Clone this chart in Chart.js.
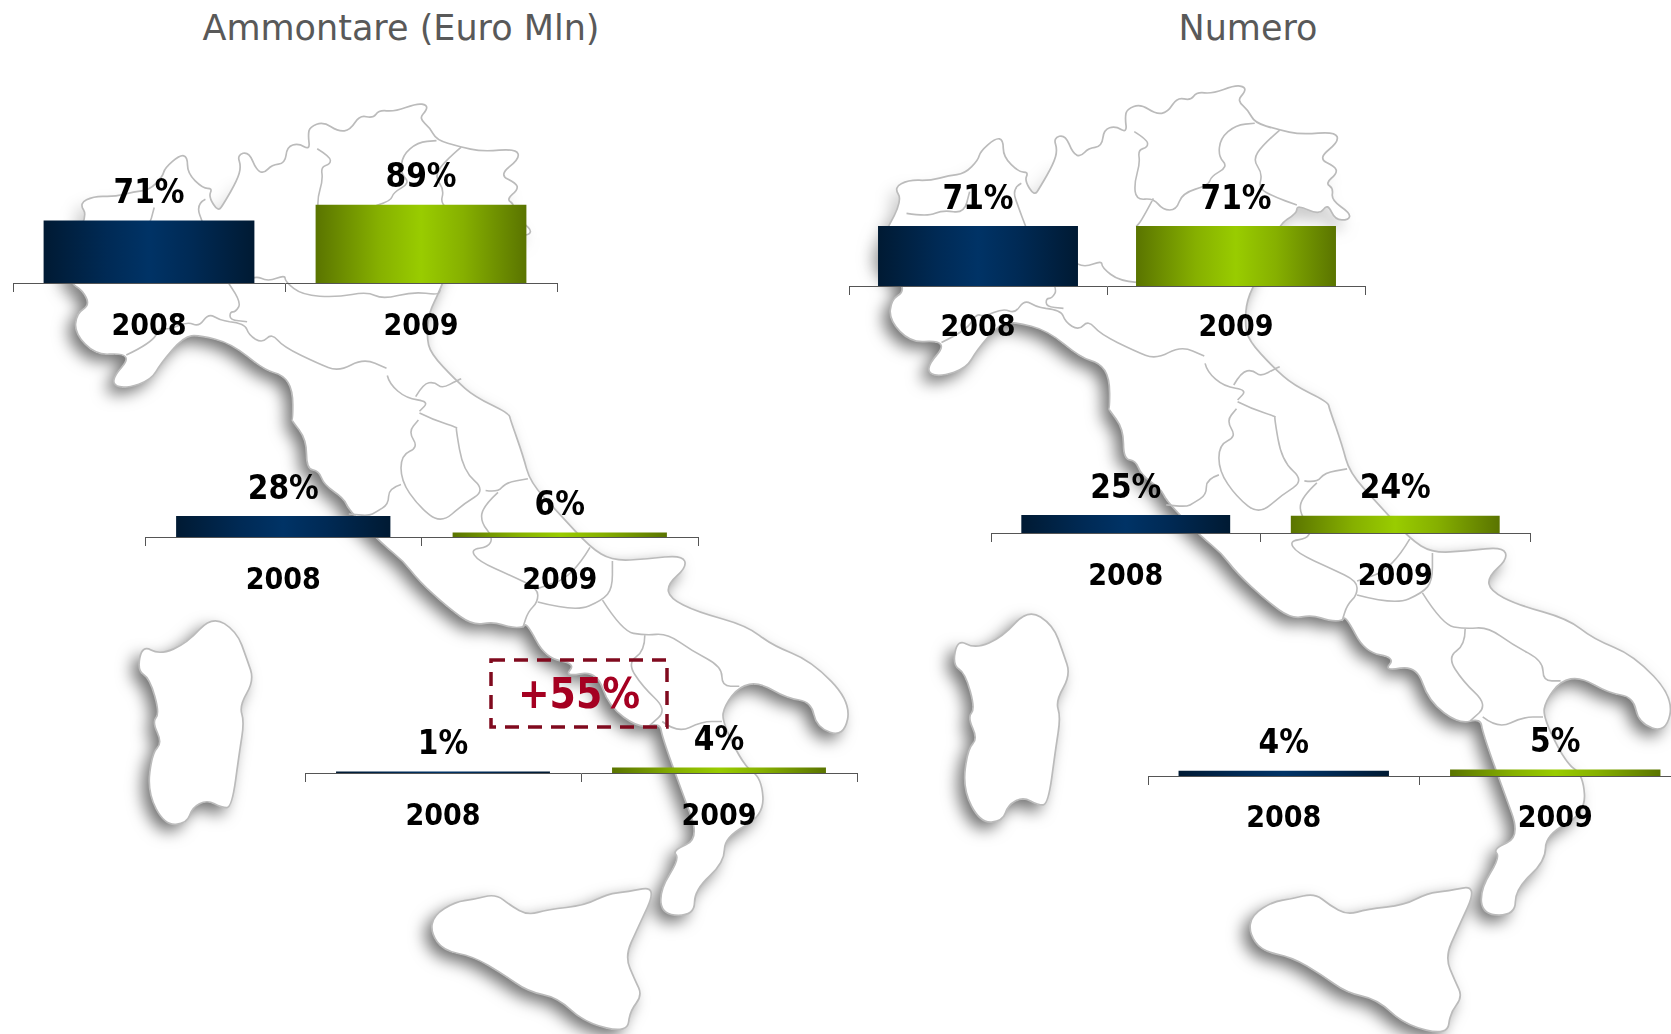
<!DOCTYPE html>
<html>
<head>
<meta charset="utf-8">
<title>Ammontare e Numero</title>
<script src="https://cdn.jsdelivr.net/npm/chart.js@4"></script>
<style>
  html, body { margin: 0; padding: 0; background: #fff; }
  #page { position: relative; width: 1671px; height: 1034px; overflow: hidden; }
  #map { position: absolute; left: 0; top: 0; }
  canvas { position: absolute; }
  .title { position: absolute; top: 5px; width: 600px; text-align: center; color: #595959;
           font: 35px "DejaVu Sans", sans-serif; line-height: 46px; }
  #delta { position: absolute; left: 491px; top: 660px; width: 176px; height: 67px;
           text-align: center; color: #a50021; font: bold 42px/67px "DejaVu Sans Condensed", "DejaVu Sans", sans-serif; }
</style>
</head>
<body>
<div id="page">
  <svg id="map" width="1671" height="1034" xmlns="http://www.w3.org/2000/svg">
    <defs>
      <filter id="shade" x="-10%" y="-10%" width="120%" height="120%">
        <feDropShadow dx="-7" dy="7" stdDeviation="8" flood-color="#000" flood-opacity="0.55"/>
      </filter>
      <linearGradient id="fadeNorth" gradientUnits="userSpaceOnUse" x1="0" y1="175" x2="0" y2="300">
        <stop offset="0" stop-color="#000"/>
        <stop offset="1" stop-color="#fff"/>
      </linearGradient>
      <mask id="southOnly" maskUnits="userSpaceOnUse" x="0" y="0" width="900" height="1100">
        <rect x="0" y="0" width="900" height="1100" fill="url(#fadeNorth)"/>
      </mask>
    </defs>
    <g id="italy"></g>
    <use href="#italy" transform="translate(813.9,-20.4) scale(1.01,1.022)"/>
  </svg>
  <div class="title" style="left:101px">Ammontare (Euro Mln)</div>
  <div class="title" style="left:948px">Numero</div>
  <canvas id="amountNord"></canvas>
  <canvas id="amountCentro"></canvas>
  <canvas id="amountSud"></canvas>
  <canvas id="countNord"></canvas>
  <canvas id="countCentro"></canvas>
  <canvas id="countSud"></canvas>
  <svg style="position:absolute;left:0;top:0" width="1671" height="1034">
    <rect x="491" y="660" width="176" height="67" fill="none" stroke="#800a1e" stroke-width="3.5" stroke-dasharray="14 9"/>
  </svg>
  <div id="delta">+55%</div>
</div>

<script>
const years = ["2008", "2009"];

const amountNord = [71, 89];
const amountCentro = [28, 6];
const amountSud = [1, 4];

const countNord = [71, 71];
const countCentro = [25, 24];
const countSud = [4, 5];

const labelFont = '"DejaVu Sans Condensed", "DejaVu Sans", sans-serif';
const plotHeight = 140;
const belowAxis = 60;

// ---- background map, traced by eye (just decoration, no data here) ----
const fromZ1 = pts => pts.map(([x, y]) => [x / 2.613, 60 + y / 3]);
const fromZ2 = pts => pts.map(([x, y]) => [100 + x / 2.01, 420 + y / 2.554]);
const toLeft = ([x, y]) => [(x - 813.9) / 1.01, 927 + (y - 927) / 1.022];
const fromZ3 = pts => pts.map(([x, y]) => toLeft([830 + x / 2.613, 60 + y / 3]));
const fromZ4 = pts => pts.map(([x, y]) => toLeft([930 + x / 2.116, 440 + y / 2.64]));

const mainland = [
  ...fromZ1([[207,430],[245,408],[300,410],[350,395],[390,390],[425,350],[430,325],[470,285],[490,290],[490,340],[530,385],[555,385],[545,410],[570,455],[585,430],[620,360],[630,320],[620,285],[650,275],[670,330],[690,340],[710,315],[745,310],[750,260],[780,250],[810,270],[805,225],[810,200],[845,185],[885,215],[915,210],[940,165],[975,175],[990,150],[1030,155],[1090,130],[1115,135],[1115,150],[1095,175],[1125,205],[1140,240],[1200,260],[1260,275]]),
  ...fromZ3([[1320,215],[1330,245],[1275,295],[1320,320],[1325,340],[1295,370],[1315,385],[1310,420],[1360,460],[1355,480],[1320,480],[1300,430],[1280,465],[1220,435],[1220,460],[1170,495]]),
  ...fromZ1([[1150,690],[1120,760],[1115,830],[1125,880],[1190,960],[1240,1010],[1330,1060]]),
  ...fromZ2([[825,0],[850,90],[865,160],[920,235],[985,325],[1030,360],[1100,355],[1170,345],[1180,375],[1140,420],[1145,455],[1200,490],[1300,525],[1350,575],[1430,615],[1510,720],[1495,810],[1440,785],[1430,720],[1380,710],[1325,670],[1285,680],[1255,730],[1250,770],[1295,885],[1330,915],[1335,1010],[1255,1065],[1255,1130],[1195,1200],[1195,1265],[1130,1265],[1125,1200],[1165,1120],[1150,1100],[1205,1070],[1170,950],[1130,810]]),
  ...fromZ4([[1165,735],[1120,750],[1055,690],[1030,595],[960,610],[985,575],[920,560],[880,465]]),
  ...fromZ2([[850,530],[825,530],[790,515],[750,525],[700,480],[640,410],[610,360],[570,320],[500,230],[490,200],[450,165],[440,130],[415,125],[415,50],[385,0]]),
  ...fromZ1([[765,1080],[765,990],[740,945],[690,930],[605,850],[520,825],[480,830],[420,910],[395,960],[330,985],[295,975],[300,945],[335,900],[320,880],[250,885],[195,820],[200,760],[235,735],[215,690],[185,670],[165,600],[230,470]])
];

const sardinia = fromZ2([[225,500],[275,540],[295,610],[310,665],[280,730],[290,770],[280,850],[265,990],[245,990],[215,970],[185,990],[175,1030],[130,1035],[95,950],[105,850],[125,825],[105,770],[120,750],[100,660],[75,640],[85,575],[120,600],[175,570]]);
const sicily = fromZ2([[1120,1190],[1060,1205],[1020,1210],[975,1240],[900,1250],[860,1265],[825,1240],[795,1210],[750,1225],[715,1230],[670,1265],[665,1310],[690,1355],[750,1370],[810,1415],[860,1460],[920,1475],[975,1540],[1060,1565],[1065,1510],[1090,1470],[1075,1430],[1055,1370],[1080,1300]]);

const borders = [
  fromZ3([[200,460],[255,470],[295,450],[350,460],[365,395]]),
  fromZ3([[500,370],[475,385],[495,450],[510,495],[545,600],[595,685],[580,715],[565,715],[565,740],[610,745]]),
  fromZ1([[600,785],[640,790],[650,825],[685,850],[710,820],[740,860],[830,910],[885,935],[950,895],[1010,925]]),
  fromZ1([[330,885],[395,850],[420,800],[440,810],[490,785],[520,800],[545,760],[575,780],[600,785]]),
  fromZ1([[630,670],[665,645],[700,665],[745,645],[745,665],[790,705],[880,712],[960,695],[1000,718],[1080,695],[1145,705],[1150,690]]),
  fromZ3([[795,215],[830,240],[830,262],[805,270],[810,310],[795,370],[800,420],[845,415],[870,450],[905,450],[920,400],[990,375],[995,350],[1040,320],[1015,290],[1020,235],[1060,195],[1110,190]]),
  fromZ3([[1175,210],[1130,255],[1105,300],[1130,340],[1120,385],[1160,410],[1220,435]]),
  fromZ3([[845,415],[815,480],[800,500]]),
  fromZ3([[980,910],[985,935],[1030,980],[1090,990],[1065,1020]]),
  fromZ3([[1055,975],[1075,935],[1105,930],[1125,950],[1165,925],[1175,920]]),
  [...fromZ3([[1065,1025],[1100,1045],[1165,1070]]), ...fromZ2([[715,20],[730,130],[775,180],[730,215],[685,265],[640,220],[605,155],[605,90],[640,70],[620,30],[640,0]])],
  fromZ2([[775,180],[800,185],[815,160],[860,150]]),
  fromZ2([[800,185],[770,220],[765,260],[790,300],[780,325],[745,330],[760,360],[830,400],[880,430],[880,465],[860,490],[850,530]]),
  fromZ2([[605,165],[580,175],[580,215],[555,235],[540,245],[500,240]]),
  fromZ2([[985,325],[950,400],[880,430]]),
  fromZ2([[880,465],[955,490],[1010,460],[1030,430],[1030,360]]),
  fromZ2([[1010,460],[1050,540],[1095,550],[1140,545],[1190,590],[1250,630],[1250,680],[1285,680]]),
  fromZ2([[1095,550],[1095,590],[1060,620],[1090,680],[1140,740],[1105,780]]),
  fromZ2([[1130,770],[1160,800],[1210,770],[1250,770]])
];

// rounds the corners of the traced polylines a bit
function smoothPath(pts, closed) {
  const mid = (a, b) => ((a[0] + b[0]) / 2).toFixed(1) + " " + ((a[1] + b[1]) / 2).toFixed(1);
  const pt = p => p[0].toFixed(1) + " " + p[1].toFixed(1);
  const n = pts.length;
  if (closed) {
    let d = "M" + mid(pts[n - 1], pts[0]);
    for (let i = 0; i < n; i++) d += "Q" + pt(pts[i]) + " " + mid(pts[i], pts[(i + 1) % n]);
    return d + "Z";
  }
  let d = "M" + pt(pts[0]);
  for (let i = 1; i < n - 1; i++) d += "Q" + pt(pts[i]) + " " + mid(pts[i], pts[i + 1]);
  return d + "L" + pt(pts[n - 1]);
}

const land = [mainland, sardinia, sicily].map(p => smoothPath(p, true)).join(" ");
const lines = borders.map(p => smoothPath(p, false)).join(" ");
document.getElementById("italy").innerHTML =
  `<g mask="url(#southOnly)"><path d="${land}" fill="#fff" filter="url(#shade)"/></g>` +
  `<path d="${land}" fill="#fff" stroke="#bbb" stroke-width="1.7" stroke-linejoin="round"/>` +
  `<path d="${lines}" fill="none" stroke="#bbb" stroke-width="1.6" stroke-linejoin="round"/>`;

// ---- the six small bar charts ----
const barLook = [
  ["#001a33", "#002a55", "#003366", "#002a55", "#001a33"],
  ["#5a7400", "#86b000", "#99cc00", "#86b000", "#5a7400"]
];
const barShare = 0.775;

function barGradient(context) {
  const chart = context.chart;
  const x = chart.scales.x;
  if (!x || !chart.chartArea) return barLook[context.dataIndex][2];
  const center = x.getPixelForValue(context.dataIndex);
  const half = (x.width / 2) * barShare / 2;
  const grad = chart.ctx.createLinearGradient(center - half, 0, center + half, 0);
  barLook[context.dataIndex].forEach((c, i) => grad.addColorStop([0, 0.3, 0.5, 0.7, 1][i], c));
  return grad;
}

const percentLabels = {
  id: "percentLabels",
  afterDatasetsDraw(chart) {
    const ctx = chart.ctx;
    const ds = chart.data.datasets[0];
    ctx.save();
    ctx.font = "bold 33px " + labelFont;
    ctx.fillStyle = "#000";
    ctx.textAlign = "center";
    ctx.textBaseline = "middle";
    chart.getDatasetMeta(0).data.forEach((bar, i) => {
      ctx.fillText(ds.data[i] + "%", bar.x, bar.y - 26);
    });
    ctx.restore();
  }
};

function makeBars(id, values, left, right, axisY, yMax, labelGap) {
  const canvas = document.getElementById(id);
  canvas.width = right - left + 2;
  canvas.height = plotHeight + belowAxis;
  canvas.style.left = (left - 1) + "px";
  canvas.style.top = (axisY - plotHeight) + "px";

  return new Chart(canvas, {
    type: "bar",
    data: {
      labels: years,
      datasets: [{
        data: values,
        backgroundColor: barGradient,
        barPercentage: barShare,
        categoryPercentage: 1
      }]
    },
    plugins: [percentLabels],
    options: {
      responsive: false,
      animation: false,
      devicePixelRatio: 1,
      layout: { padding: { left: 1, right: 1, top: 0, bottom: 0 } },
      plugins: { legend: { display: false }, tooltip: { enabled: false } },
      scales: {
        y: { display: false, min: 0, max: yMax },
        x: {
          afterFit(scale) { scale.height = belowAxis; },
          border: { color: "#555", width: 1 },
          grid: { offset: true, drawOnChartArea: false, drawTicks: true, tickLength: 9, color: "#555" },
          ticks: { color: "#000", padding: labelGap, font: { family: labelFont, size: 30, weight: "bold" } }
        }
      }
    }
  });
}

makeBars("amountNord", amountNord, 13, 557, 283, 159, 17);
makeBars("amountCentro", amountCentro, 145, 698, 537, 187, 17);
makeBars("amountSud", amountSud, 305, 857, 773, 100, 17);
makeBars("countNord", countNord, 849, 1365, 286, 166, 15);
makeBars("countCentro", countCentro, 991, 1530, 533, 194, 17);
makeBars("countSud", countSud, 1148, 1691, 776, 108, 16);
</script>
</body>
</html>
